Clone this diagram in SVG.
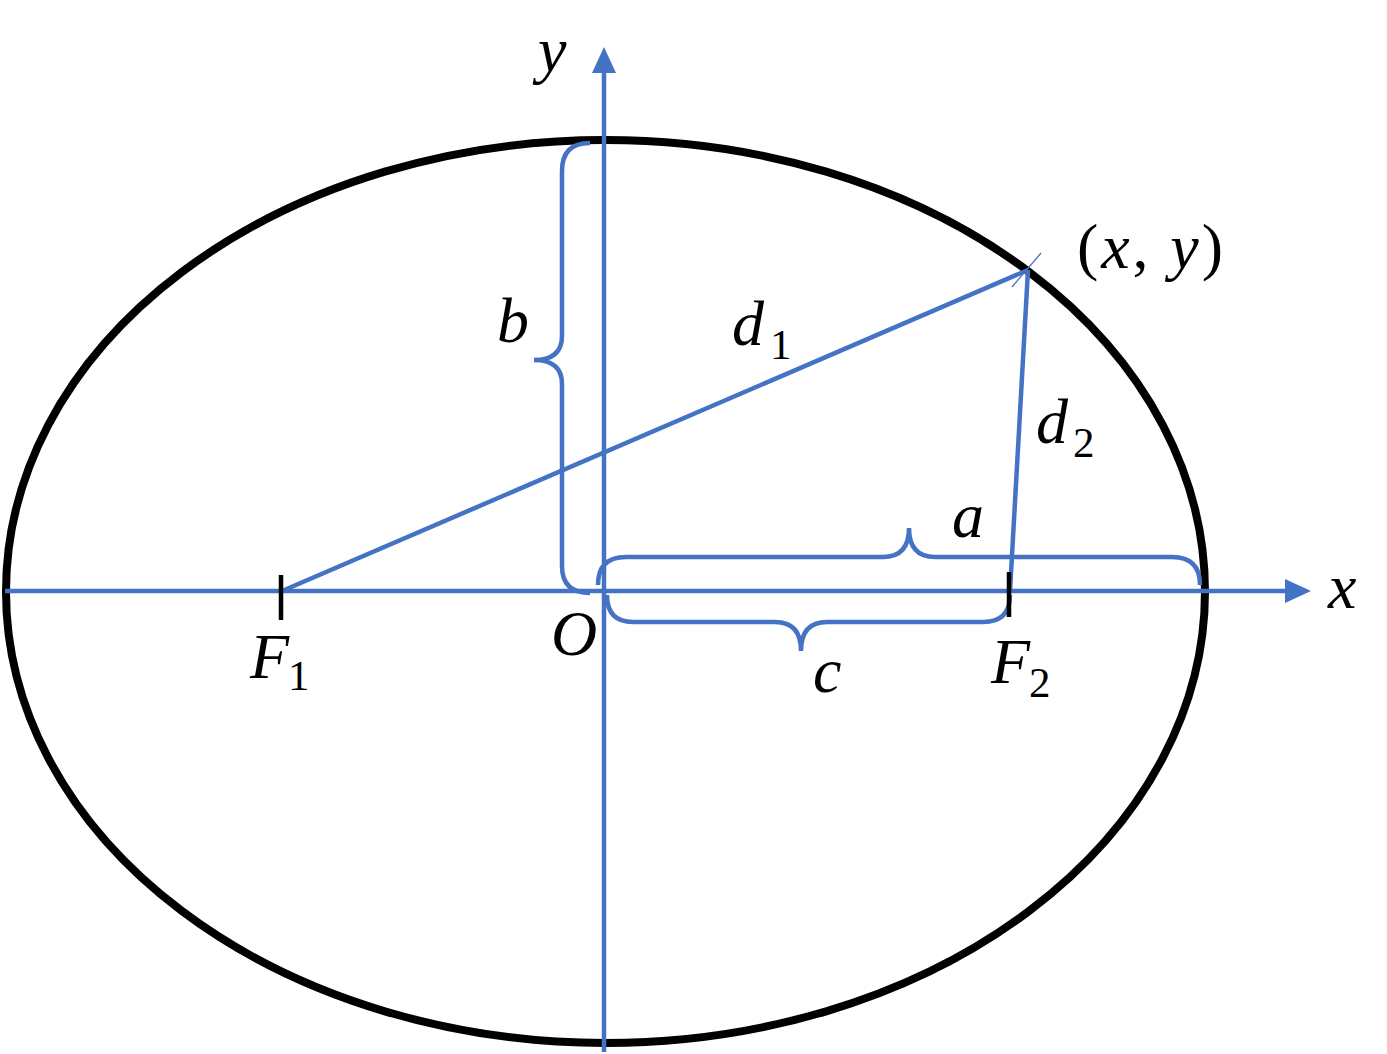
<svg xmlns="http://www.w3.org/2000/svg" width="1387" height="1054" viewBox="0 0 1387 1054">
<style>
.blue{stroke:#4472C4;stroke-width:4.5;fill:none;stroke-linecap:butt}
.thin{stroke:#4472C4;stroke-width:1.3;fill:none}
.tick{stroke:#000;stroke-width:4.5}
.lab{font-style:italic;font-size:64px;fill:#000}
.sub{font-style:normal;font-size:43px;fill:#000}
.up{font-style:normal}
</style>
<defs>
<marker id="arr" markerUnits="userSpaceOnUse" markerWidth="26" markerHeight="24" refX="0" refY="12" orient="auto" viewBox="0 0 26 24">
<path d="M0,0 L26,12 L0,24 Z" fill="#4472C4"/>
</marker>
</defs>
<g id="ellipse">
<ellipse cx="605.5" cy="591.5" rx="599.5" ry="451.5" fill="none" stroke="#000" stroke-width="8"/>
</g>
<g id="connectors">
<line id="x-axis" class="blue" x1="5" y1="591" x2="1285" y2="591" marker-end="url(#arr)"/>
<line id="y-axis" class="blue" x1="604" y1="1052" x2="604" y2="73" marker-end="url(#arr)"/>
<line id="d1-line" class="blue" x1="282" y1="591" x2="1028" y2="270"/>
<line id="d2-line" class="blue" x1="1010" y1="591" x2="1028" y2="270"/>
<line id="tangent" class="thin" x1="1012" y1="287" x2="1041" y2="253"/>
<path id="brace-b" class="blue" d="M590,143 Q562,143 562,171 L562,336 Q562,360 534,360 Q562,360 562,384 L562,566 Q562,593 590,593"/>
<path id="brace-a" class="blue" d="M598,585 Q598,557 626,557 L883,557 Q909,557 909,528 Q909,557 935,557 L1172,557 Q1200,557 1200,585"/>
<path id="brace-c" class="blue" d="M607,595 Q607,622 633,622 L775,622 Q801,622 801,651 Q801,622 827,622 L983,622 Q1010,622 1010,595"/>
</g>
<g id="F1" font-family="Liberation Serif, Times New Roman, serif">
<line class="tick" x1="281" y1="575" x2="281" y2="620"/>
<text class="lab" x="250" y="678">F</text>
<text class="sub" x="288" y="690">1</text>
</g>
<g id="F2" font-family="Liberation Serif, Times New Roman, serif">
<line class="tick" x1="1009" y1="572" x2="1009" y2="617"/>
<text class="lab" x="991" y="683">F</text>
<text class="sub" x="1029" y="697">2</text>
</g>
<g id="origin" font-family="Liberation Serif, Times New Roman, serif">
<text class="lab" x="551" y="655">O</text>
</g>
<g id="labels" font-family="Liberation Serif, Times New Roman, serif">
<text id="lab-y" class="lab" x="538" y="71">y</text>
<text id="lab-x" class="lab" x="1328" y="608">x</text>
<text id="lab-b" class="lab" x="497" y="342">b</text>
<text id="lab-a" class="lab" x="952" y="537">a</text>
<text id="lab-c" class="lab" x="813" y="692">c</text>
<text id="lab-d1" class="lab" x="732" y="345">d</text>
<text class="sub" x="770" y="359">1</text>
<text id="lab-d2" class="lab" x="1036" y="443">d</text>
<text class="sub" x="1073" y="457">2</text>
<text id="lab-point" class="lab" x="1077" y="268" textLength="146" lengthAdjust="spacing"><tspan class="up">(</tspan>x<tspan class="up">,</tspan> y<tspan class="up">)</tspan></text>
</g>
</svg>
